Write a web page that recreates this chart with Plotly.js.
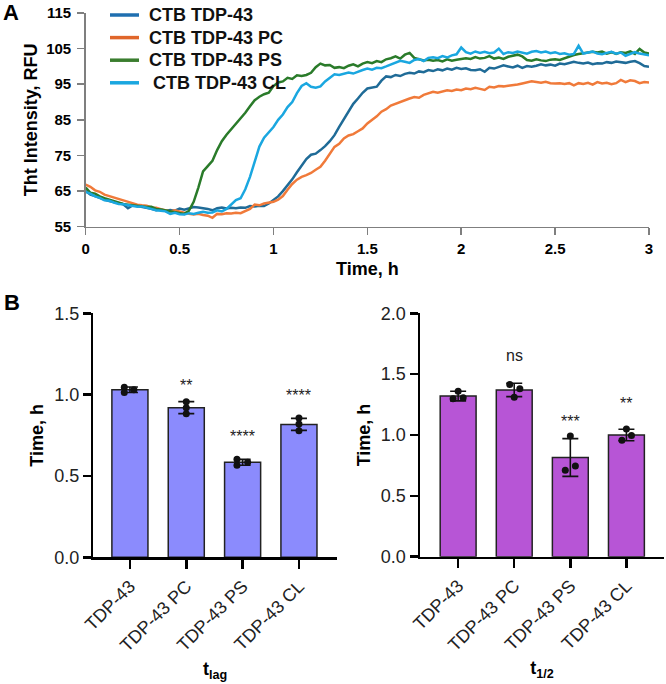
<!DOCTYPE html>
<html>
<head>
<meta charset="utf-8">
<script src="https://cdn.plot.ly/plotly-3.0.1.min.js"></script>
<style>html,body{margin:0;padding:0;background:#fff;}#chart{width:666px;height:684px;}</style>
</head>
<body>
<div id="chart"></div>
<script>
// ---------- Panel A data ----------
const seriesNames = ["CTB TDP-43", "CTB TDP-43 PC", "CTB TDP-43 PS", "CTB TDP-43 CL"];
const timeH = [0,0.025,0.05,0.075,0.1,0.125,0.15,0.175,0.2,0.225,0.25,0.275,0.3,0.325,0.35,0.375,0.4,0.425,0.45,0.475,
0.5,0.525,0.55,0.575,0.6,0.625,0.65,0.675,0.7,0.725,0.75,0.775,0.8,0.825,0.85,0.875,0.9,0.925,0.95,0.975,
1,1.025,1.05,1.075,1.1,1.125,1.15,1.175,1.2,1.225,1.25,1.275,1.3,1.325,1.35,1.375,1.4,1.425,1.45,1.475,
1.5,1.525,1.55,1.575,1.6,1.625,1.65,1.675,1.7,1.725,1.75,1.775,1.8,1.825,1.85,1.875,1.9,1.925,1.95,1.975,
2,2.025,2.05,2.075,2.1,2.125,2.15,2.175,2.2,2.225,2.25,2.275,2.3,2.325,2.35,2.375,2.4,2.425,2.45,2.475,
2.5,2.525,2.55,2.575,2.6,2.625,2.65,2.675,2.7,2.725,2.75,2.775,2.8,2.825,2.85,2.875,2.9,2.925,2.95,2.975,3];

const tdp43 = [65.0,64.0,63.6,63.0,62.6,62.2,61.9,61.5,61.3,60.2,61.0,60.8,60.6,60.4,60.0,59.6,59.8,59.4,59.7,59.5,
60.1,59.8,60.2,60.5,60.4,60.3,60.0,59.6,60.2,60.4,60.1,60.3,60.2,60.4,60.3,60.8,60.7,60.9,60.8,61.5,
62.4,63.5,65.0,66.5,68.3,70.3,72.2,74.0,75.2,75.5,76.5,77.6,79.0,80.7,83.0,85.2,87.6,89.5,91.0,92.6,
93.8,94.0,94.3,96.0,97.2,97.0,97.6,97.3,97.9,98.2,98.0,98.6,98.4,99.0,98.7,99.2,98.9,99.4,99.1,99.6,
99.3,99.5,99.0,98.9,99.2,98.5,99.6,99.4,99.9,100.3,100.0,99.7,100.2,99.6,100.1,99.9,100.2,100.6,100.3,100.5,
100.2,100.8,100.6,101.0,101.3,101.0,100.8,101.1,100.6,100.9,100.8,101.2,101.0,101.4,101.2,101.0,101.3,101.5,100.9,100.1,99.9];

const tdp43PC = [66.8,66.2,65.2,64.8,64.0,63.6,63.0,62.8,62.4,62.0,61.4,61.2,61.0,60.9,60.4,60.3,59.9,59.6,59.3,59.6,
59.2,58.9,58.6,58.4,58.6,58.3,58.1,57.5,58.6,58.5,58.8,58.7,58.9,58.8,59.4,60.0,61.2,61.0,61.5,61.7,
62.0,62.6,63.6,65.4,67.0,68.2,69.0,69.5,70.1,71.0,71.8,73.5,75.6,77.4,78.3,79.8,80.6,81.0,81.8,82.6,
84.0,85.0,86.0,87.3,88.0,89.0,89.5,90.2,90.6,91.0,91.4,91.2,92.0,92.4,92.9,92.6,93.0,93.3,93.1,93.5,
93.3,93.8,93.6,94.0,93.7,93.4,94.3,94.1,94.5,94.4,94.6,94.7,94.9,95.2,95.6,95.8,95.6,95.4,95.7,95.3,
95.2,95.3,95.1,95.3,94.7,95.3,95.1,95.4,94.9,95.6,95.2,95.4,95.0,95.3,96.2,95.6,96.1,95.9,95.3,95.6,95.5];

const tdp43PS = [66.0,64.5,64.3,63.5,63.0,62.6,62.0,61.7,61.4,61.2,61.0,60.8,60.8,60.5,60.6,60.0,59.8,59.6,59.4,59.0,
58.8,58.6,59.5,62.0,66.0,70.5,72.0,73.5,76.5,79.0,80.8,82.3,84.0,85.5,87.0,88.8,90.5,91.5,92.2,92.6,
94.5,95.5,95.8,96.8,96.5,97.5,97.3,97.6,98.2,99.8,100.8,100.3,100.4,99.6,99.8,99.5,100.2,100.6,100.0,100.8,
101.2,100.9,101.5,101.2,102.0,102.3,102.8,102.2,103.3,103.8,102.4,102.0,101.7,101.9,101.6,101.8,101.4,102.0,101.6,101.9,
102.2,102.3,102.1,102.6,102.2,102.4,102.9,102.2,102.5,102.1,102.7,103.0,103.3,102.8,101.8,101.6,102.0,101.7,101.5,101.9,
102.0,101.8,102.3,102.6,103.2,103.5,103.7,103.8,104.1,103.9,104.2,103.6,104.0,103.5,104.0,103.8,104.2,103.5,104.9,103.9,103.6];

const tdp43CL = [64.8,64.3,63.5,63.1,62.4,62.3,61.8,61.4,61.3,61.0,60.8,60.6,60.7,60.3,60.1,59.6,59.5,59.3,58.6,58.9,
58.5,58.4,58.8,58.6,58.9,59.2,58.9,59.0,59.6,59.3,60.0,61.4,62.5,63.0,65.5,69.0,73.5,77.5,80.0,81.5,
83.0,85.0,86.5,88.6,90.0,92.5,94.5,95.3,94.3,94.0,94.4,95.8,96.8,97.8,97.6,98.0,98.3,98.0,98.6,99.0,
99.4,99.1,99.6,99.5,100.0,100.6,101.0,101.6,101.3,101.0,101.8,102.1,101.5,102.4,102.6,102.3,102.9,102.5,103.1,103.4,
105.3,104.0,103.6,104.2,103.8,104.1,103.7,103.9,105.0,103.5,104.0,103.8,104.2,104.0,103.6,104.1,104.3,103.9,104.2,103.7,
104.0,103.5,103.7,103.3,103.5,105.8,103.6,103.9,104.2,103.6,103.4,103.8,104.1,103.6,103.9,103.0,103.5,104.0,103.6,103.3,103.1];

// ---------- Panel B data ----------
const groups = ["TDP-43", "TDP-43 PC", "TDP-43 PS", "TDP-43 CL"];
const tlagMean = [1.03, 0.92, 0.584, 0.817];
const tlagSD = [0.017, 0.037, 0.018, 0.037];
const tlagPoints = [[1.045, 1.013, 1.03], [0.957, 0.92, 0.883], [0.602, 0.566, 0.584], [0.857, 0.82, 0.778]];
const tlagSig = ["", "**", "****", "****"];

const thalfMean = [1.32, 1.37, 0.815, 1.0];
const thalfSD = [0.04, 0.055, 0.155, 0.047];
const thalfPoints = [[1.36, 1.298, 1.306], [1.415, 1.38, 1.311], [0.992, 0.746, 0.71], [1.049, 0.995, 0.957]];
const thalfSig = ["", "ns", "***", "**"];

// ---------- styling ----------
const FONT = "Arial, 'Liberation Sans', Helvetica, sans-serif";
const lineColors = ["#1f6b97", "#f07a3a", "#2a7b2a", "#1aa7e0"];
const legendColors = ["#1f6fb0", "#e0662a", "#3a7d2e", "#1aa7e0"];
const lagSpread = [[-0.1, -0.1, 0.07], [0, 0, 0], [-0.1, -0.1, 0.09], [0, 0, 0]];
const halfSpread = [[0, -0.09, 0.09], [-0.08, 0.1, 0], [0, 0.09, -0.09], [0, 0.09, -0.08]];
const sigShiftLag = [0, 6, 12, 12];
const sigShiftHalf = [0, 17, 7, 15];
const W = 666, H = 684;

const curves = [tdp43, tdp43PC, tdp43PS, tdp43CL];
const traces = [];
curves.forEach((ys, i) => {
  traces.push({
    type: "scatter", mode: "lines", x: timeH, y: ys, name: seriesNames[i], showlegend: false,
    line: {color: lineColors[i], width: 2.5}, xaxis: "x", yaxis: "y"
  });
});

function barSet(means, sds, pts, spread, color, xa, ya) {
  traces.push({
    type: "bar", x: [0, 1, 2, 3], y: means, width: 0.64, xaxis: xa, yaxis: ya, showlegend: false,
    marker: {color: color, line: {color: "#222", width: 1.5}},
    error_y: {type: "data", array: sds, visible: true, color: "#111", thickness: 1.6, width: 8}
  });
  const dx = [], dy = [];
  pts.forEach((g, i) => g.forEach((v, j) => { dx.push(i + spread[i][j]); dy.push(v); }));
  traces.push({
    type: "scatter", mode: "markers", x: dx, y: dy, xaxis: xa, yaxis: ya, showlegend: false,
    marker: {color: "#111", size: 7}
  });
}
barSet(tlagMean, tlagSD, tlagPoints, lagSpread, "#8b8bfd", "x2", "y2");
barSet(thalfMean, thalfSD, thalfPoints, halfSpread, "#b755d6", "x3", "y3");

const annotations = [
  {text: "<b>A</b>", xref: "paper", yref: "paper", x: 1 / W, y: 1 - 12 / H, xanchor: "left", yanchor: "middle",
   showarrow: false, font: {family: FONT, size: 22, color: "#000"}},
  {text: "<b>B</b>", xref: "paper", yref: "paper", x: 2 / W, y: 1 - 303 / H, xanchor: "left", yanchor: "middle",
   showarrow: false, font: {family: FONT, size: 22, color: "#000"}}
];
const shapes = [];
// manual legend
seriesNames.forEach((nm, i) => {
  const yc = 1 - (15 + 22.6 * i) / H;
  shapes.push({type: "line", xref: "paper", yref: "paper", x0: 110 / W, x1: 139 / W, y0: yc, y1: yc,
    line: {color: legendColors[i], width: 3.5}});
  annotations.push({text: "<b>" + nm + "</b>", xref: "paper", yref: "paper", x: (i === 3 ? 151 : 147) / W, y: yc,
    xanchor: "left", yanchor: "middle", showarrow: false, font: {family: FONT, size: 18, color: "#111"}});
});
tlagSig.forEach((s, i) => {
  if (!s) return;
  annotations.push({text: s, x: i, y: tlagMean[i] + tlagSD[i], xref: "x2", yref: "y2", yanchor: "bottom",
    yshift: sigShiftLag[i], showarrow: false, font: {family: FONT, size: 16, color: "#222"}});
});
thalfSig.forEach((s, i) => {
  if (!s) return;
  annotations.push({text: s, x: i, y: thalfMean[i] + thalfSD[i], xref: "x3", yref: "y3", yanchor: "bottom",
    yshift: sigShiftHalf[i], showarrow: false, font: {family: FONT, size: 16, color: "#222"}});
});

const topAxis = {
  showline: true, linecolor: "#7f7f7f", linewidth: 1.5, ticks: "outside", tickcolor: "#7f7f7f",
  ticklen: 7, tickwidth: 1.5, showgrid: false, zeroline: false,
  tickfont: {family: FONT, size: 15, color: "#000", weight: "bold"}
};
const barY = {
  showline: true, linecolor: "#000", linewidth: 2.5, ticks: "outside", tickcolor: "#000",
  ticklen: 8, tickwidth: 2.5, showgrid: false, zeroline: false, dtick: 0.5, tickformat: ".1f",
  tickfont: {family: FONT, size: 18, color: "#222"},
  title: {text: "<b>Time, h</b>", font: {family: FONT, size: 18, color: "#000"}, standoff: 6}
};
const barX = {
  showline: true, linecolor: "#000", linewidth: 2.5, ticks: "outside", tickcolor: "#000",
  ticklen: 9, tickwidth: 2.5, showgrid: false, zeroline: false,
  tickvals: [0, 1, 2, 3], ticktext: groups, tickangle: -45,
  tickfont: {family: FONT, size: 18, color: "#222"}
};

const layout = {
  width: W, height: H, margin: {l: 0, r: 0, t: 0, b: 0},
  paper_bgcolor: "#fff", plot_bgcolor: "rgba(0,0,0,0)",
  font: {family: FONT},
  showlegend: false,
  xaxis: Object.assign({}, topAxis, {domain: [85.7 / W, 649 / W], range: [0, 3], dtick: 0.5, tick0: 0,
    anchor: "y", ticklabelstandoff: 1,
    title: {text: "<b>Time, h</b>", font: {family: FONT, size: 18, color: "#000"}, standoff: 6}}),
  yaxis: Object.assign({}, topAxis, {domain: [1 - 226.7 / H, 1 - 13 / H], range: [55, 115], dtick: 10, tick0: 55,
    anchor: "x", ticklabelstandoff: 3,
    title: {text: "<b>Tht Intensity, RFU</b>", font: {family: FONT, size: 18, color: "#000"}, standoff: 4}}),
  xaxis2: Object.assign({}, barX, {domain: [93.3 / W, 336.7 / W], range: [-0.65, 3.67], anchor: "y2",
    title: {text: "<b>t<sub>lag</sub></b>", font: {family: FONT, size: 18, color: "#000"}, standoff: 8}}),
  yaxis2: Object.assign({}, barY, {domain: [1 - 557.3 / H, 1 - 313.3 / H], range: [0, 1.5], anchor: "x2"}),
  xaxis3: Object.assign({}, barX, {domain: [420 / W, 664 / W], range: [-0.68, 3.67], anchor: "y3",
    title: {text: "<b>t<sub>1/2</sub></b>", font: {family: FONT, size: 18, color: "#000"}, standoff: 8}}),
  yaxis3: Object.assign({}, barY, {domain: [1 - 556.7 / H, 1 - 313.3 / H], range: [0, 2], anchor: "x3"}),
  annotations: annotations,
  shapes: shapes
};

Plotly.newPlot("chart", traces, layout, {displayModeBar: false, staticPlot: true});
</script>
</body>
</html>
